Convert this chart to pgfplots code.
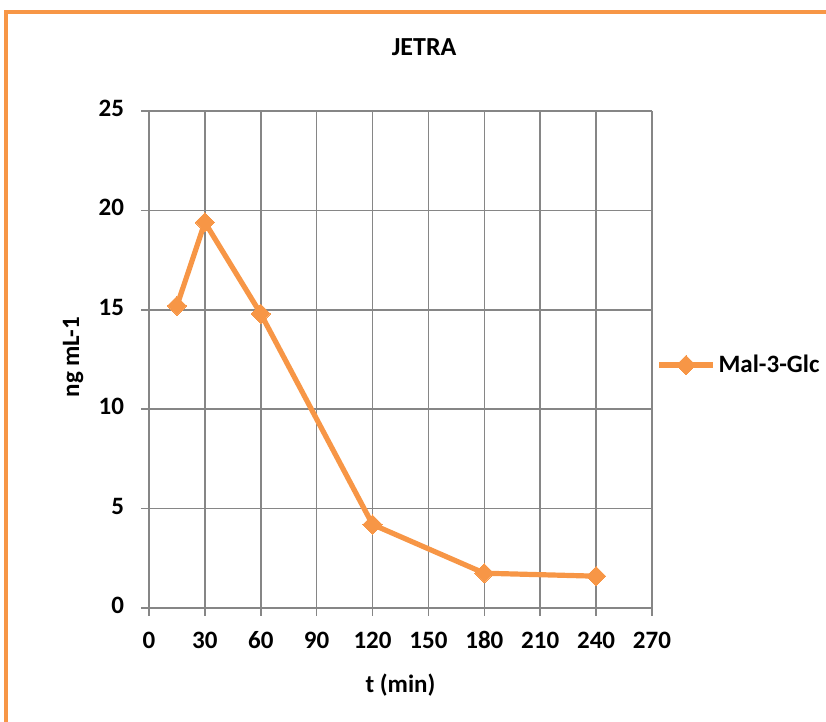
\documentclass[border=0pt]{standalone}
\usepackage{pgfplots}
\pgfplotsset{compat=1.18}
\usepackage{fontspec}
\setmainfont{Carlito}
\definecolor{exorange}{HTML}{F79646}
\definecolor{exgrid}{RGB}{134,134,134}
\begin{document}
\begin{tikzpicture}
\path[use as bounding box] (0,0) rectangle (413pt,361pt);
\draw[exorange, line width=1.6pt] (3pt,-2pt) -- (3pt,355pt) -- (416pt,355pt);
\begin{axis}[
  at={(74.5pt,57pt)}, anchor=south west,
  scale only axis, width=251.5pt, height=248.5pt,
  xmin=0, xmax=270, ymin=0, ymax=25,
  xtick={0,30,...,270}, ytick={0,5,...,25},
  grid=major,
  grid style={exgrid, line width=0.75pt},
  axis line style={exgrid, line width=0.75pt},
  axis lines=left,
  x axis line style={-}, y axis line style={-},
  tick style={exgrid, line width=0.75pt},
  tick align=outside, major tick length=4pt,
  xtick pos=bottom, ytick pos=left,
  /pgf/number format/assume math mode=true,
  typeset ticklabels with strut,
  ticklabel style={font=\bfseries\fontsize{12.5}{14}\selectfont, text=black},
  xticklabel style={yshift=-3pt},
  yticklabel style={xshift=-5pt},
  title={JETRA},
  title style={at={(axis description cs:0.547,1.105)}, anchor=center, font=\bfseries\fontsize{13}{15}\selectfont},
  xlabel={t (min)},
  xlabel style={at={(axis description cs:0.5,-0.155)}, anchor=center, font=\bfseries\fontsize{12.5}{14}\selectfont},
  ylabel={ng mL-1},
  ylabel style={at={(axis description cs:-0.151,0.505)}, anchor=center, rotate=0, font=\bfseries\fontsize{12.5}{14}\selectfont},
  legend style={draw=none, fill=none, at={(axis description cs:1.008,0.489)}, anchor=west, inner sep=0pt,
    font=\bfseries\fontsize{12.5}{14}\selectfont, nodes={inner sep=1.5pt}},
  legend cell align=left,
  legend image code/.code={\draw[#1, mark repeat=2, mark phase=2] plot coordinates {(0pt,0pt) (13.5pt,0pt) (27pt,0pt)};},
  clip=false,
]
\addplot[exorange, line width=2.6pt, mark=square*, mark size=3.4pt, mark options={rotate=45, fill=exorange, draw=exorange, line width=0pt}]
  coordinates {(15,15.2) (30,19.4) (60,14.8) (120,4.2) (180,1.75) (240,1.6)};
\addlegendentry{Mal-3-Glc}
\end{axis}
\end{tikzpicture}
\end{document}
